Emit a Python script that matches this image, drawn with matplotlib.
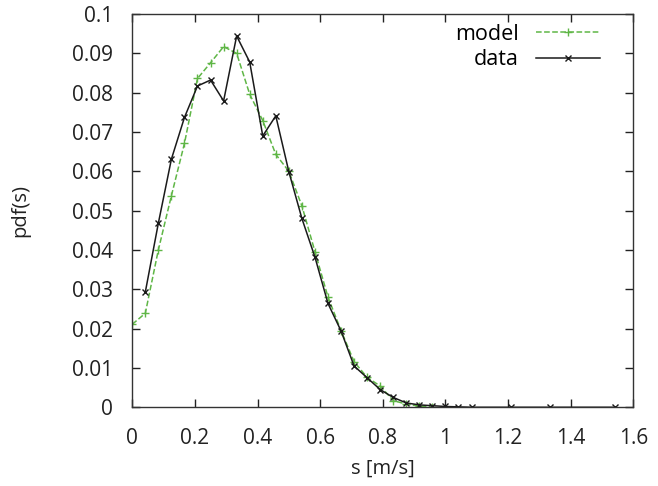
import matplotlib
matplotlib.use("Agg")
import matplotlib.pyplot as plt

plt.rcParams['font.family'] = ['Open Sans', 'DejaVu Sans']

# speed bins (m/s)
model_s = [0.0, 0.0417, 0.0833, 0.125, 0.1667, 0.2083, 0.25, 0.2917, 0.3333,
           0.375, 0.4167, 0.4583, 0.5, 0.5417, 0.5833, 0.625, 0.6667, 0.7083,
           0.75, 0.7917, 0.8333, 0.875, 0.9167, 0.9583]
model_pdf = [0.0211, 0.0239, 0.0400, 0.0538, 0.0671, 0.0836, 0.0876, 0.0917,
             0.0900, 0.0796, 0.0729, 0.0643, 0.0600, 0.0512, 0.0396, 0.0280,
             0.0195, 0.0116, 0.0076, 0.0054, 0.0017, 0.0008, 0.0003, 0.0001]

data_s = [0.0417, 0.0833, 0.125, 0.1667, 0.2083, 0.25, 0.2917, 0.3333, 0.375,
          0.4167, 0.4583, 0.5, 0.5417, 0.5833, 0.625, 0.6667, 0.7083, 0.75,
          0.7917, 0.8333, 0.875, 0.9167, 0.9583, 1.0, 1.0417, 1.0833, 1.2083,
          1.3333, 1.5417]
data_pdf = [0.0293, 0.0468, 0.0631, 0.0737, 0.0817, 0.0832, 0.0779, 0.0944,
            0.0878, 0.0690, 0.0741, 0.0599, 0.0480, 0.0382, 0.0264, 0.0194,
            0.0105, 0.0075, 0.0045, 0.0025, 0.0011, 0.0006, 0.0004, 0.0002,
            0.0001, 0.0, 0.0, 0.0, 0.0]

fig = plt.figure(figsize=(6.58, 4.86), dpi=100)
ax = fig.add_axes([0.201, 0.162, 0.7615, 0.8092])

ax.plot(model_s, model_pdf, color='#5fb646', linestyle='--', linewidth=1.1,
        marker='+', markersize=6, markeredgewidth=1.0, label='model')
ax.plot(data_s, data_pdf, color='#1a1a1a', linestyle='-', linewidth=1.1,
        marker='x', markersize=5, markeredgewidth=1.0, label='data')

ax.set_xlim(0, 1.6)
ax.set_ylim(0, 0.1)
ax.set_xticks([0, 0.2, 0.4, 0.6, 0.8, 1.0, 1.2, 1.4, 1.6])
ax.set_xticklabels(['0', '0.2', '0.4', '0.6', '0.8', '1', '1.2', '1.4', '1.6'])
ax.set_yticks([0, 0.01, 0.02, 0.03, 0.04, 0.05, 0.06, 0.07, 0.08, 0.09, 0.1])
ax.set_yticklabels(['0', '0.01', '0.02', '0.03', '0.04', '0.05', '0.06',
                    '0.07', '0.08', '0.09', '0.1'])
ax.tick_params(direction='in', top=True, right=True, length=6, width=1.0,
               labelsize=15, colors='#222222')
ax.tick_params(axis='y', pad=14)
ax.tick_params(axis='x', pad=15)
for sp in ax.spines.values():
    sp.set_linewidth(1.0)
    sp.set_color('#333333')

ax.set_xlabel('s [m/s]', fontsize=14.5, labelpad=7, color='#222222')
ax.set_ylabel('pdf(s)', fontsize=14.5, labelpad=30, color='#222222')

ax.legend(loc='upper right', bbox_to_anchor=(0.964, 1.014), frameon=False,
          markerfirst=False, numpoints=1, handlelength=3.0, handletextpad=0.8,
          fontsize=15.5, labelspacing=0.22, borderpad=0.2)

fig.savefig('out.png', dpi=100)
